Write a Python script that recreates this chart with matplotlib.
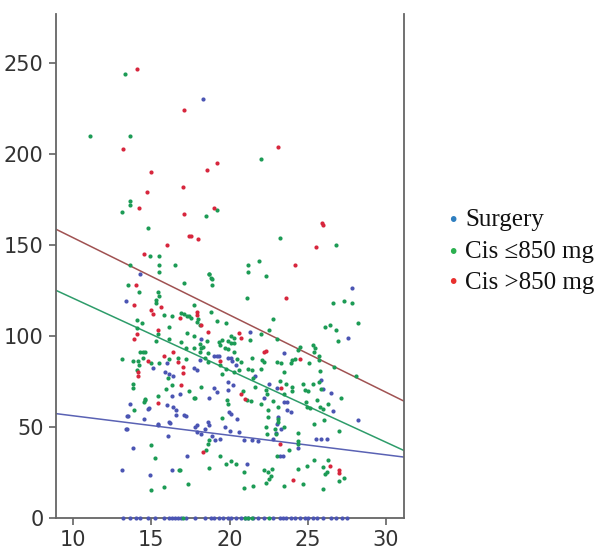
import numpy as np
import matplotlib
matplotlib.use("Agg")
import matplotlib.pyplot as plt
from matplotlib import font_manager

# points: (x, y) pairs per group
surgery = [
    (18.3, 230), (14.26, 134), (13.4, 119), (16.0, 85), (15.9, 80), (15.1, 82), (17.7, 82),
    (16.1, 79), (16.4, 77.6), (16.85, 67.7), (16.3, 67), (13.6, 62.6), (13.45, 56), (14.85, 60),
    (16.0, 62), (16.4, 61), (16.55, 59.3), (17.2, 56), (14.5, 54), (13.45, 48.6), (15.4, 51.2),
    (16.2, 52), (17.8, 50), (16.05, 45), (13.8, 38.4), (17.3, 33.6), (13.1, 26), (14.9, 23.3),
    (16.3, 26), (16.55, 56.2), (21.3, 102), (18.15, 98.4), (19.0, 89), (19.2, 89), (19.3, 89),
    (19.9, 88), (20.1, 87.7), (18.1, 86.5), (20.15, 85.9), (20.4, 83.7), (17.9, 81),
    (19.9, 74.5), (20.2, 72.7), (19.9, 70), (19.0, 71.4), (19.2, 69.2), (18.7, 65.7), (19.98, 58),
    (20.1, 57), (20.5, 54.3), (18.6, 52.5), (18.7, 50.7), (17.9, 50.7), (18.4, 48.8), (17.9, 47),
    (19.7, 49.7), (20.05, 47.5), (20.6, 47), (18.9, 44.6), (19.05, 42.8), (19.4, 43.1),
    (20.95, 42.8), (21.4, 42.4), (21.8, 42), (21.1, 29.2), (22.5, 73.6), (23.05, 71.4),
    (27.8, 126), (27.55, 99), (23.45, 90.5), (26.5, 68.4), (23.5, 63.5), (23.7, 63.3), (23.7, 59),
    (23.9, 58), (26.6, 58.5), (28.2, 53.4), (24.4, 38.4), (25.5, 43.3), (25.85, 43.3), (26.2, 43),
    (25.85, 75.4), (25.95, 70.9), (23.1, 55.2), (23.0, 51.6), (23.3, 48.8), (22.95, 46.4),
    (22.8, 43.3), (23.4, 34), (23.2, 33.6), (14.8, 59.9), (13.5, 56), (15.4, 50.7), (16.1, 52.5),
    (17.1, 56.2), (18.2, 46), (21.6, 77.6), (22.2, 66), (13.4, 48.8),
]
surgery_zero_x = [13.2, 13.6, 14.0, 14.3, 14.8, 15.2, 15.8, 16.1, 16.3, 16.5, 16.7, 16.9, 17.2,
                  17.8, 18.4, 18.8, 19.0, 19.3, 19.6, 19.9, 20.1, 20.4, 20.7, 21.0, 21.2, 21.5,
                  21.8, 22.2, 22.8, 23.2, 23.4, 23.6, 23.9, 24.2, 24.5, 24.8, 25.0, 25.3, 25.6,
                  26.0, 26.5, 26.8, 27.2, 27.5]

cis_low = [
    (13.3, 244), (11.1, 210), (13.6, 210), (22.0, 197), (13.6, 174), (13.6, 172), (13.1, 168),
    (19.2, 169), (18.5, 166), (14.8, 159), (23.2, 154), (26.8, 150), (14.9, 144), (15.5, 144),
    (15.5, 139), (16.5, 139), (13.6, 139), (21.2, 139), (21.9, 141), (21.2, 135), (22.3, 133),
    (18.7, 134), (18.8, 132), (15.5, 135), (13.5, 128), (14.2, 124), (17.1, 129),
    (15.4, 124), (15.5, 122), (15.3, 119.5), (15.3, 118), (17.7, 117), (15.8, 111.6), (16.3, 110.8),
    (16.9, 112.5), (17.1, 111.7), (17.25, 111), (17.4, 111), (17.5, 110), (14.05, 108.9),
    (14.4, 107), (16.1, 105), (17.9, 107.5), (15.45, 101), (14.1, 104), (17.3, 101.7), (17.7, 100),
    (15.3, 97), (16.1, 98), (16.9, 96.5), (17.2, 93), (17.7, 93), (18.2, 93), (13.15, 87),
    (13.8, 86), (14.15, 86), (14.2, 84), (14.3, 91), (14.45, 91), (14.6, 91), (14.45, 88),
    (15.0, 85), (15.5, 85), (16.1, 87), (16.7, 88), (17.2, 87),
    (18.66, 134), (18.9, 131), (18.9, 128), (21.1, 121), (18.8, 113), (19.2, 108), (19.8, 107),
    (18.0, 109), (18.1, 106), (22.8, 109), (22.5, 103), (22.0, 101), (23.0, 98), (21.3, 97.5),
    (20.1, 100), (20.3, 99), (19.5, 97.5), (19.9, 97), (20.1, 96), (20.3, 96), (18.55, 97),
    (18.1, 95.6), (18.3, 93.8), (19.3, 96.5), (19.4, 95), (19.7, 93), (19.9, 92.5), (20.3, 91),
    (18.6, 90.5), (21.4, 88), (22.05, 86.5), (22.2, 85.5), (23.0, 85.5), (20.5, 87), (20.75, 85.5),
    (21.4, 81), (22.0, 81.5), (18.1, 91), (18.4, 87.7), (19.4, 83.7), (19.8, 81.9), (20.3, 80),
    (20.6, 81), (21.2, 81.9), (18.6, 85.5),
    (26.6, 118), (27.3, 119), (27.8, 118), (28.2, 107), (26.1, 105), (26.4, 106), (26.8, 103),
    (26.9, 97), (25.3, 95), (25.45, 93), (25.4, 91), (25.7, 89), (24.5, 94), (24.4, 92),
    (24.0, 86.5), (24.2, 87.4), (25.05, 85), (25.7, 86.5), (25.8, 80.5), (26.7, 83), (28.1, 78),
    (23.3, 85), (23.5, 80), (23.95, 85),
    (13.8, 73.6), (13.8, 71.4), (16.05, 77), (16.3, 73), (15.96, 70.6), (17.4, 69.6), (17.8, 66),
    (15.4, 67), (14.6, 64.4), (14.55, 63.5), (13.9, 59), (15.0, 40), (15.2, 33), (16.75, 26.3),
    (17.35, 18.6), (15.0, 15.3), (15.8, 16.7), (14.1, 81), (14.6, 65.4),
    (19.5, 79), (18.2, 71.7), (17.75, 66), (19.85, 64.4), (19.9, 62.6), (20.85, 69.5), (21.1, 64.4),
    (21.35, 64), (21.6, 72), (22.0, 62.6), (22.3, 70), (22.4, 68), (22.8, 64), (23.1, 60.7),
    (23.25, 75), (21.5, 77), (19.5, 55), (18.7, 42.4), (18.6, 40.2), (18.5, 37.3), (22.35, 49.7),
    (22.4, 46), (22.9, 48.8), (22.95, 45.7), (23.1, 54.3), (23.1, 52.5), (22.45, 59.3),
    (22.45, 55.2), (19.4, 34), (19.8, 29.6), (20.1, 31), (20.4, 29.2), (18.7, 27.4), (20.95, 25),
    (22.2, 26.3), (22.45, 25), (22.7, 26.8), (22.66, 23.1), (22.55, 21.3), (22.35, 18.9),
    (23.0, 33.6), (20.9, 16.4), (21.5, 17.1),
    (24.7, 73.6), (25.3, 73.2), (25.7, 74.5), (24.8, 70), (25.0, 69.6), (25.85, 70.9), (24.0, 71.8),
    (24.0, 69.6), (23.6, 73.2), (23.45, 68), (27.1, 66), (24.9, 63.5), (24.95, 60.7), (25.15, 60.4),
    (25.75, 60.7), (25.6, 64.4), (25.95, 59.9), (26.3, 62.6), (26.05, 53.8), (25.4, 51.2),
    (27.0, 47.4), (23.45, 49.7), (24.4, 46.4), (24.4, 42), (24.4, 40.6), (23.8, 37.3),
    (24.95, 28.6), (25.4, 31.4), (26.0, 27.7), (26.3, 31.8), (26.2, 25), (26.1, 23.7), (27.0, 20),
    (27.3, 21.9), (24.4, 26.6), (24.7, 18.6), (23.5, 17.6), (26.0, 15.8), (16.8, 26.4),
]
cis_low_zero_x = [17.0, 21.0, 21.2, 21.4, 22.5]

cis_high = [
    (14.06, 247), (17.1, 224), (13.2, 203), (23.1, 204), (19.2, 195), (18.55, 191), (15.0, 190),
    (17.0, 182), (14.7, 179), (14.2, 170), (17.1, 167), (19.0, 170), (17.4, 155), (17.5, 155),
    (18.0, 153), (16.0, 150), (14.5, 145), (24.2, 139), (25.9, 162), (26.0, 161), (25.5, 149),
    (23.6, 121), (14.0, 128), (13.9, 117), (15.6, 116), (15.0, 114), (15.1, 112), (16.8, 109.7),
    (15.45, 103), (14.05, 101), (13.9, 98), (17.9, 113), (17.9, 111.6), (18.2, 106), (18.6, 102),
    (20.6, 101.7), (20.7, 99), (22.2, 91), (22.35, 91.4), (14.8, 86), (14.15, 80), (14.15, 78),
    (15.8, 89), (16.4, 91), (16.7, 85.5), (17.0, 83), (19.4, 85.9), (17.0, 79.5), (16.9, 73),
    (15.45, 63), (20.75, 68), (21.0, 65), (18.3, 36), (24.5, 87), (23.2, 40.6), (24.05, 20.4),
    (26.4, 28.6), (27.0, 25.9), (27.0, 24.4), (23.3, 71),
]

# fitted lines (intercept, slope)
fit_surgery = (66.7, -1.074)
fit_cis_low = (160.2, -3.96)
fit_cis_high = (196.4, -4.25)

labels = ["Surgery", "Cis \u2264850 mg", "Cis >850 mg"]
dot_colors = ["#4b55b3", "#1c9b55", "#d7263d"]
line_colors = ["#5a62b4", "#2e9c6a", "#a05252"]
legend_colors = ["#2f7fc0", "#2bb04f", "#e8302e"]

avail = {f.name for f in font_manager.fontManager.ttflist}
tick_font = "Liberation Sans Narrow" if "Liberation Sans Narrow" in avail else "DejaVu Sans"

fig = plt.figure(figsize=(5.98, 5.53), dpi=100)
ax = fig.add_axes([56 / 598, 1 - 517.5 / 553, 348 / 598, 503.5 / 553])

groups = [
    surgery + [(x, 0) for x in surgery_zero_x],
    cis_low + [(x, 0) for x in cis_low_zero_x],
    cis_high,
]
for pts, c in zip(groups, dot_colors):
    pts = np.array(pts)
    ax.scatter(pts[:, 0], pts[:, 1], s=9, color=c, linewidths=0, zorder=3, clip_on=False)

xs = np.array([8.9, 31.15])
for (b, m), c in zip([fit_surgery, fit_cis_low, fit_cis_high], line_colors):
    ax.plot(xs, b + m * xs, color=c, lw=1.1, zorder=2)

ax.set_xlim(8.9, 31.15)
ax.set_ylim(0, 277)
ax.set_xticks([10, 15, 20, 25, 30])
ax.set_yticks([0, 50, 100, 150, 200, 250])
ax.spines["top"].set_visible(False)
for s in ["left", "bottom", "right"]:
    ax.spines[s].set_color("#666666")
    ax.spines[s].set_linewidth(1.3)
ax.tick_params(axis="both", direction="out", length=5, width=1.1, color="#555555",
               labelsize=15, labelcolor="#333333", pad=4)
ax.tick_params(axis="y", right=False)
for lab in ax.get_xticklabels() + ax.get_yticklabels():
    lab.set_fontfamily(tick_font)

# legend drawn as text entries
ys = [220, 252, 283]
for lab, c, yy in zip(labels, legend_colors, ys):
    fig.text(453 / 598, 1 - yy / 553, "\u2022", color=c, fontsize=14, ha="center", va="center")
    fig.text(465 / 598, 1 - yy / 553, lab, fontsize=18, family="Liberation Serif",
             color="#111111", ha="left", va="center")

fig.savefig("out.png", dpi=100)
